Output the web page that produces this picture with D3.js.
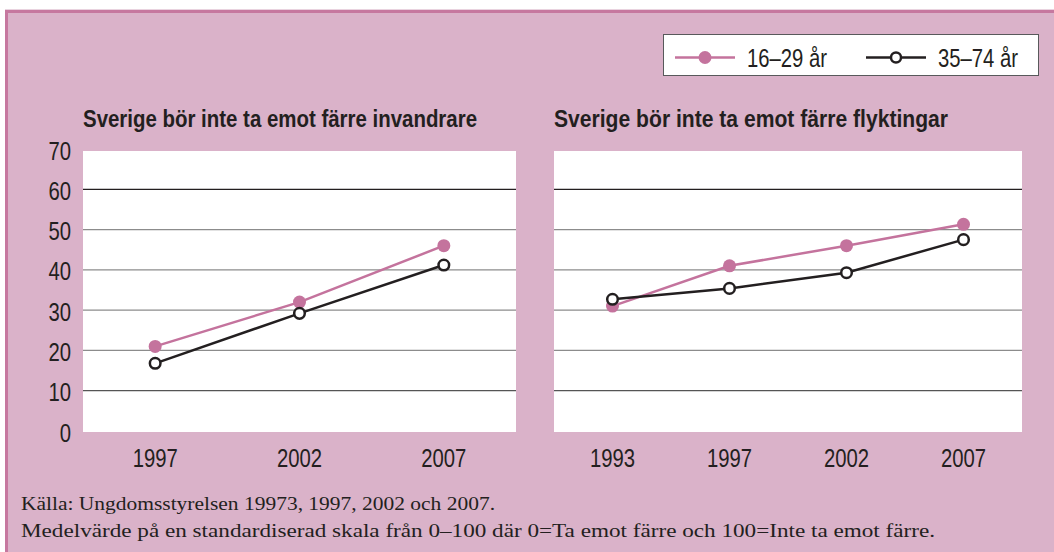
<!DOCTYPE html>
<html>
<head>
<meta charset="utf-8">
<script src="https://cdn.jsdelivr.net/npm/d3@7"></script>
<style>
  html, body { margin: 0; padding: 0; background: #fff; }
  svg { display: block; }
  .sans { font-family: "Liberation Sans", Arial, sans-serif; }
  .serif { font-family: "Liberation Serif", "DejaVu Serif", serif; }
</style>
</head>
<body>
<div id="chart"></div>
<script>
const series = ["16–29 år", "35–74 år"];
const yTicks = [0, 10, 20, 30, 40, 50, 60, 70];

const years1 = ["1997", "2002", "2007"];
const young1 = [21, 32, 46];
const old1 = [16.8, 29.2, 41.2];

const years2 = ["1993", "1997", "2002", "2007"];
const young2 = [31, 41, 46, 51.3];
const old2 = [32.7, 35.4, 39.3, 47.5];

const titles = ["Sverige bör inte ta emot färre invandrare", "Sverige bör inte ta emot färre flyktingar"];
const notes = [
  "Källa: Ungdomsstyrelsen 19973, 1997, 2002 och 2007.",
  "Medelvärde på en standardiserad skala från 0–100 där 0=Ta emot färre och 100=Inte ta emot färre."
];

const W = 1054, H = 552;
const pink = "#c4739d";
const dark = "#231f20";
const narrow = 0.78; // horizontal squeeze to imitate a condensed face

const svg = d3.select("#chart").append("svg")
  .attr("width", W).attr("height", H);

// condensed-looking label: a group translated to the anchor and squeezed in x
function label(parent, x, yy, txt, anchor, size) {
  const g = parent.append("g").attr("transform", `translate(${x},${yy}) scale(${narrow},1)`);
  g.append("text").attr("class", "sans")
    .attr("text-anchor", anchor)
    .attr("font-size", size).attr("fill", dark)
    .text(txt);
  return g;
}

// frame
svg.append("rect").attr("x", 5).attr("y", 9).attr("width", W).attr("height", H)
  .attr("fill", "#e9d3df");
svg.append("rect").attr("x", 6.5).attr("y", 11.5).attr("width", W + 10).attr("height", H)
  .attr("fill", "#dab2c9").attr("stroke", "#c6789f").attr("stroke-width", 3);

const y = d3.scaleLinear().domain([0, 70]).range([431, 149]);

function panel(x0, x1, years, young, old, title, showY) {
  const g = svg.append("g");
  const x = d3.scalePoint().domain(years).range([x0, x1]).padding(0.5);

  g.append("rect").attr("x", x0).attr("y", 151).attr("width", x1 - x0).attr("height", 281)
    .attr("fill", "#fff");

  g.selectAll("line.grid").data(yTicks.filter(d => d > 0 && d < 70)).join("line")
    .attr("class", "grid")
    .attr("x1", x0).attr("x2", x1)
    .attr("y1", d => y(d)).attr("y2", d => y(d))
    .attr("stroke", d => d === 60 ? "#231f20" : (d === 10 ? "#555" : "#8c8c8c"))
    .attr("stroke-width", 1.3);

  if (showY) {
    yTicks.forEach(d => label(g, 71, y(d) + 10.5, d, "end", 26));
  }

  years.forEach(d => label(g, x(d), 467, d, "middle", 26));

  g.append("text").attr("class", "sans")
    .attr("x", x0).attr("y", 127)
    .attr("font-size", 23).attr("font-weight", "bold").attr("fill", dark)
    .attr("textLength", title.length > 41 ? 379 : 394).attr("lengthAdjust", "spacingAndGlyphs")
    .text(title);

  const line = d3.line().x((d, i) => x(years[i])).y(d => y(d));

  g.append("path").datum(young).attr("d", line)
    .attr("fill", "none").attr("stroke", pink).attr("stroke-width", 2.5);
  g.selectAll("circle.young").data(young).join("circle")
    .attr("class", "young")
    .attr("cx", (d, i) => x(years[i])).attr("cy", d => y(d)).attr("r", 6.5)
    .attr("fill", pink);

  g.append("path").datum(old).attr("d", line)
    .attr("fill", "none").attr("stroke", dark).attr("stroke-width", 2.5);
  g.selectAll("circle.old").data(old).join("circle")
    .attr("class", "old")
    .attr("cx", (d, i) => x(years[i])).attr("cy", d => y(d)).attr("r", 5.3)
    .attr("fill", "#fff").attr("stroke", dark).attr("stroke-width", 2.5);
}

panel(83, 516, years1, young1, old1, titles[0], true);
panel(554, 1022, years2, young2, old2, titles[1], false);

// legend
const lg = svg.append("g");
lg.append("rect").attr("x", 663.5).attr("y", 34.5).attr("width", 375).attr("height", 41)
  .attr("fill", "#fff").attr("stroke", "#58595b").attr("stroke-width", 1);
const legendItems = [
  { name: series[0], x: 675, color: pink, fill: pink, r: 6.5, sw: 0 },
  { name: series[1], x: 866, color: dark, fill: "#fff", r: 5, sw: 2.5 }
];
legendItems.forEach(it => {
  lg.append("line").attr("x1", it.x).attr("x2", it.x + 60).attr("y1", 57.5).attr("y2", 57.5)
    .attr("stroke", it.color).attr("stroke-width", 2.5);
  lg.append("circle").attr("cx", it.x + 30).attr("cy", 57.5).attr("r", it.r)
    .attr("fill", it.fill).attr("stroke", it.sw ? it.color : "none").attr("stroke-width", it.sw);
  label(lg, it.x + 72, 67, it.name, "start", 26);
});

// notes
svg.selectAll("text.note").data(notes).join("text")
  .attr("class", "note serif")
  .attr("x", 21).attr("y", (d, i) => 510 + i * 27)
  .attr("font-size", 19).attr("fill", dark)
  .attr("textLength", (d, i) => i === 0 ? 474 : 914).attr("lengthAdjust", "spacingAndGlyphs")
  .text(d => d);
</script>
</body>
</html>
